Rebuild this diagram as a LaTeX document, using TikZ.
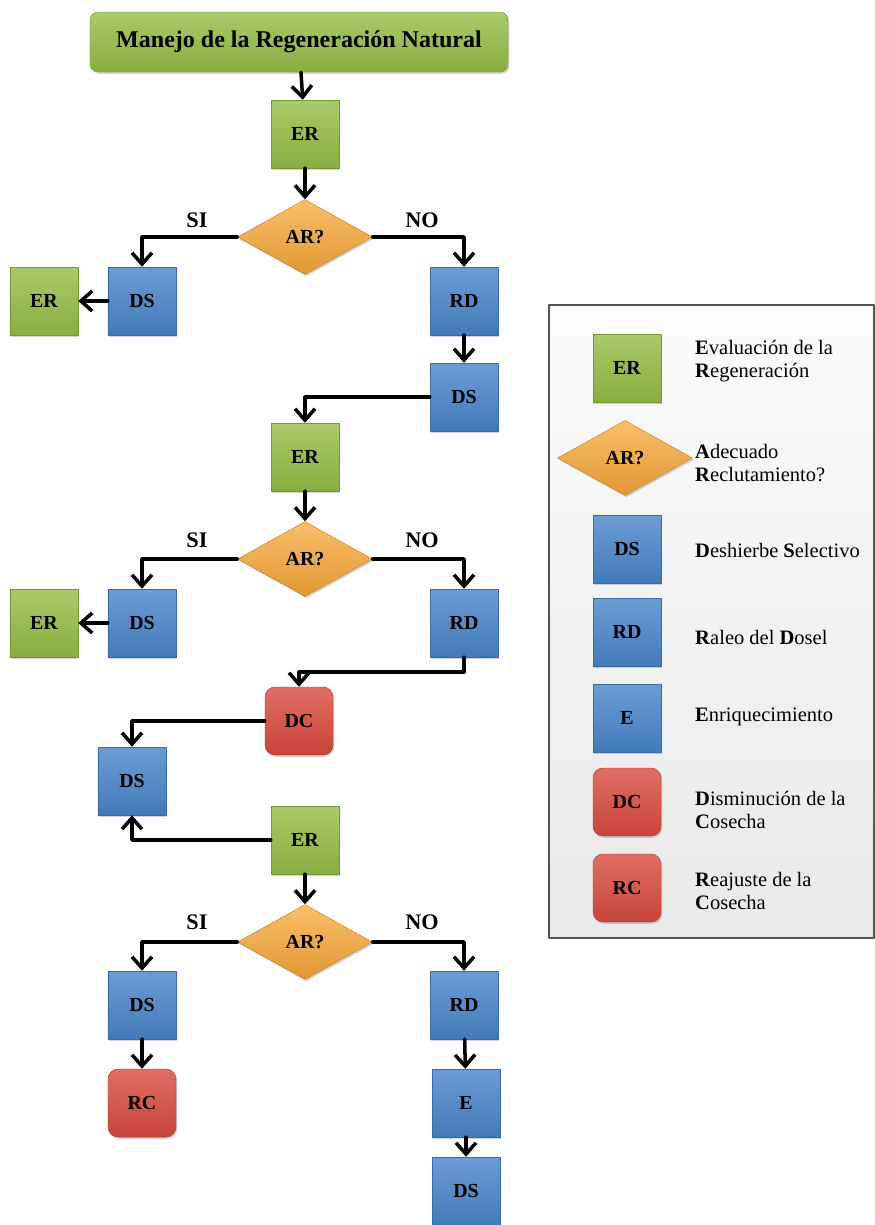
\documentclass[tikz,border=0pt]{standalone}
\usepackage{fontspec}
\setmainfont{Liberation Serif}
\usetikzlibrary{arrows.meta,shapes.geometric,shadows}
\definecolor{zbbbvz}{rgb}{0.58,0.74,0.27}
\definecolor{ubyxcy}{rgb}{0.28,0.52,0.79}
\definecolor{fbaatc}{rgb}{0.98,0.66,0.22}
\definecolor{dsubur}{rgb}{0.85,0.29,0.24}
\definecolor{vvvvvv}{rgb}{0.33,0.33,0.33}

\begin{document}
\begin{tikzpicture}[line cap=round,line join=round,x=0.03cm,y=-0.03cm,
	sombra/.style={drop shadow={opacity=0.35,shadow xshift=1.2pt,shadow yshift=-1.5pt}},
	caja/.style={rectangle,minimum size=2.04cm,inner sep=0pt,sombra,
		font=\fontsize{17}{20}\selectfont\bfseries},
	er/.style={caja,draw=zbbbvz!80!black,top color=zbbbvz!80!white,bottom color=zbbbvz!92!black},
	ds/.style={caja,draw=ubyxcy!80!black,top color=ubyxcy!80!white,bottom color=ubyxcy!92!black},
	dc/.style={caja,rounded corners=3mm,draw=dsubur!80!black,top color=dsubur!80!white,bottom color=dsubur!92!black},
	ar/.style={diamond,aspect=1.8,minimum width=4.05cm,minimum height=2.25cm,inner sep=0pt,sombra,
		draw=fbaatc!80!black,top color=fbaatc!75!white,bottom color=fbaatc!90!black,
		font=\fontsize{17}{20}\selectfont\bfseries},
	flecha/.style={line width=3pt,-{Straight Barb[length=3.4mm,width=6mm]}},
	lbl/.style={font=\fontsize{19}{22}\selectfont\bfseries},
	ley/.style={anchor=west,align=left,inner sep=0pt,font=\fontsize{17.5}{19.5}\selectfont}]
	\useasboundingbox (0,0) rectangle (875,1225);
	% leyenda
	\draw[draw=vvvvvv,line width=1pt,top color=gray!3,bottom color=gray!17] (549,305) rectangle (874,938);
	\node[er] (ler) at (627,368) {ER};
		\node[ley] (ter) at (695,361) {\textbf{E}valuación de la\\\textbf{R}egeneración};
	\node[ar] (lar) at (625,458) {AR?};
		\node[ley] (tar) at (695,463) {\textbf{A}decuado\\\textbf{R}eclutamiento?};
	\node[ds] (lds) at (627,549) {DS};
		\node[ley] (tds) at (695,550) {\textbf{D}eshierbe \textbf{S}electivo};
	\node[ds] (lrd) at (627,632) {RD};
		\node[ley] (trd) at (695,637) {\textbf{R}aleo del \textbf{D}osel};
	\node[ds] (le) at (627,718) {E};
		\node[ley] (te) at (695,717) {\textbf{E}nriquecimiento};
	\node[dc] (ldc) at (627,802) {DC};
		\node[ley] (tdc) at (695,810) {\textbf{D}isminución de la\\\textbf{C}osecha};
	\node[dc] (lrc) at (627,888) {RC};
		\node[ley] (trc) at (695,891) {\textbf{R}eajuste de la\\\textbf{C}osecha};
	% diagrama
	\node[er,minimum width=12.54cm,minimum height=1.8cm,rounded corners=2.4mm,
		font=\fontsize{20.5}{24}\selectfont\bfseries] (titulo) at (299,42) {Manejo de la Regeneración Natural};
	\node[er] (er1) at (305,134) {ER};
	\node[ar] (ar1) at (305,237) {AR?};
	\node[ds] (ds1) at (142,301) {DS};
	\node[er] (er1a) at (44,301) {ER};
	\node[ds] (rd1) at (464,301) {RD};
	\node[ds] (ds2) at (464,397) {DS};
	\node[er] (er2) at (305,457) {ER};
	\node[ar] (ar2) at (305,559) {AR?};
	\node[ds] (ds3) at (142,623) {DS};
	\node[er] (er2a) at (44,623) {ER};
	\node[ds] (rd2) at (464,623) {RD};
	\node[dc] (dc) at (299,721) {DC};
	\node[ds] (ds4) at (132,781) {DS};
	\node[er] (er3) at (305,840) {ER};
	\node[ar] (ar3) at (305,942) {AR?};
	\node[ds] (ds5) at (142,1005) {DS};
	\node[dc] (rc) at (142,1103) {RC};
	\node[ds] (rd3) at (464,1005) {RD};
	\node[ds] (e) at (466,1103) {E};
	\node[ds] (ds6) at (466,1191) {DS};
	\node[lbl] (si1) at (197,220) {SI};
	\node[lbl] (no1) at (422,220) {NO};
	\node[lbl] (si2) at (197,540) {SI};
	\node[lbl] (no2) at (422,540) {NO};
	\node[lbl] (si3) at (197,922) {SI};
	\node[lbl] (no3) at (422,922) {NO};
	% conectores
	\draw[flecha] (titulo) -- (er1);
	\draw[flecha] (er1) -- (ar1);
	\draw[flecha] (ar1.west) -| (ds1.north);
	\draw[flecha] (ar1.east) -| (rd1.north);
	\draw[flecha] (ds1) -- (er1a);
	\draw[flecha] (rd1) -- (ds2);
	\draw[flecha] (ds2.west) -| (er2.north);
	\draw[flecha] (er2) -- (ar2);
	\draw[flecha] (ar2.west) -| (ds3.north);
	\draw[flecha] (ar2.east) -| (rd2.north);
	\draw[flecha] (ds3) -- (er2a);
	\draw[flecha] (rd2.south) -- ++(0,15) -| (dc.north);
	\draw[flecha] (dc.west) -| (ds4.north);
	\draw[flecha] (er3.west) -| (ds4.south);
	\draw[flecha] (er3) -- (ar3);
	\draw[flecha] (ar3.west) -| (ds5.north);
	\draw[flecha] (ar3.east) -| (rd3.north);
	\draw[flecha] (ds5) -- (rc);
	\draw[flecha] (rd3) -- (e);
	\draw[flecha] (e) -- (ds6);
\end{tikzpicture}
\end{document}
